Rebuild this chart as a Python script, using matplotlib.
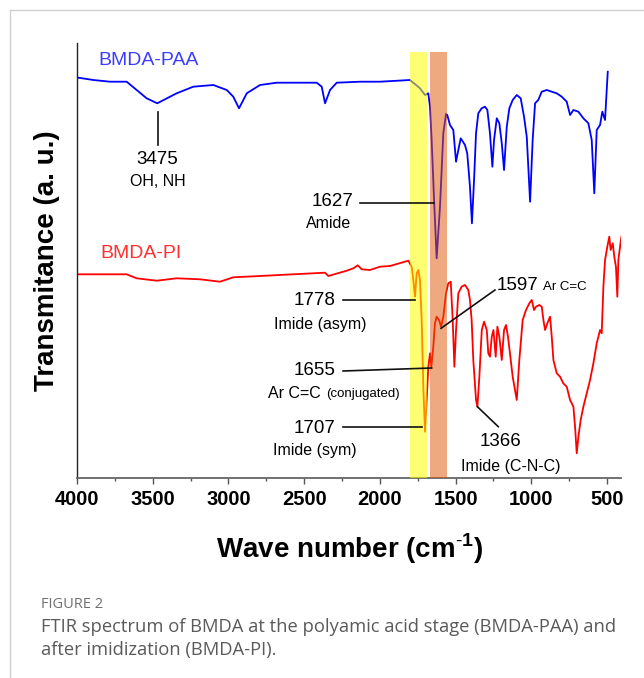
import matplotlib
matplotlib.use("Agg")
import matplotlib.pyplot as plt
from matplotlib.lines import Line2D
from matplotlib.ticker import MultipleLocator

plt.rcParams['font.family'] = ['Liberation Sans', 'DejaVu Sans']
plt.rcParams['mathtext.fontset'] = 'custom'
plt.rcParams['mathtext.rm'] = 'Liberation Sans'
plt.rcParams['mathtext.bf'] = 'Liberation Sans:bold'

# ---------------- data (arbitrary transmittance units) ----
paa_wn = [4000, 3892, 3782, 3672, 3606, 3540, 3470, 3342, 3232, 3100, 3011, 2968,
          2930, 2879, 2791, 2681, 2417, 2384, 2362, 2329, 2285, 2131, 1999,
          1801, 1735, 1702, 1680, 1669, 1658, 1642, 1625, 1603, 1581, 1563, 1555,
          1537, 1515, 1497, 1482, 1466, 1438, 1423, 1405, 1392, 1378, 1365, 1350,
          1328, 1306, 1290, 1273, 1257, 1246, 1228, 1211, 1195, 1180, 1162, 1145,
          1123, 1096, 1070, 1048, 1030, 1008, 991, 975, 954, 931, 898, 865, 832,
          799, 766, 744, 722, 689, 656, 623, 601, 584, 568, 546, 531, 513, 502, 495]
paa_t = [400.5, 398, 396.3, 396.3, 388, 379.7, 374.7, 384.7, 391.3, 393, 388, 381.3,
         369.7, 384.7, 393, 395.3, 395.3, 391.3, 374.7, 388, 395.3, 396.3, 396.3,
         398, 389.7, 383, 384.7, 371.3, 338, 278, 219.7, 271.3, 344.7, 364, 363,
         353, 348, 316.3, 328, 339.7, 333, 324.7, 291.3, 254.7, 298, 344.7, 364.7,
         369.7, 371.3, 368, 344.7, 311.3, 338, 359.7, 354.7, 334.7, 308, 351.3, 369.7,
         378, 383, 379.7, 361.3, 341.3, 276.3, 338, 374.7, 378, 386.3, 388, 386.3, 384.7,
         381.3, 376.3, 363, 368, 366.3, 359.7, 354.7, 338, 284.7, 348, 353, 366.3, 358, 388, 406.3]

pi_wn = [4000, 3672, 3606, 3474, 3342, 3188, 3056, 2968, 2791, 2572, 2362, 2340,
         2219, 2175, 2146, 2120, 2065, 1999, 1933, 1812, 1790, 1779, 1768, 1757,
         1746, 1735, 1724, 1713, 1702, 1691, 1680, 1669, 1660, 1647, 1636, 1625,
         1609, 1596, 1581, 1563, 1548, 1532, 1519, 1508, 1497, 1482, 1460, 1438,
         1416, 1405, 1394, 1383, 1365, 1356, 1343, 1327, 1312, 1294, 1284, 1273,
         1261, 1250, 1235, 1224, 1211, 1195, 1180, 1167, 1154, 1141, 1123, 1096,
         1079, 1057, 1035, 1013, 997, 982, 969, 947, 931, 920, 909, 894, 876, 865,
         854, 832, 810, 789, 766, 744, 722, 711, 700, 689, 674, 656, 634, 612, 590,
         568, 546, 535, 524, 513, 498, 485, 476, 462, 452, 441, 432, 425, 414, 405]
pi_t = [203.7, 203.7, 199.7, 197.3, 199.7, 198.7, 196.3, 200.7, 202, 203.7, 205.3, 202,
        207.3, 209.7, 212.7, 208.7, 208, 211.3, 212, 217.3, 211.3, 198, 181.3, 204.7,
        208, 198, 158, 91.3, 46.3, 78, 111.3, 124.7, 111.3, 131.3, 154.7, 161.3,
        158, 151.3, 161.3, 184.7, 194.7, 196.3, 158, 111.3, 148, 184.7, 191.3, 193,
        188, 178, 158, 118, 78, 71.3, 101.3, 148, 156.3, 148, 124.7, 121.3,
        141.3, 148, 121.3, 151.3, 141.3, 118, 148, 153, 141.3, 124.7, 101.3, 78,
        118, 158, 168, 174.7, 178, 168, 171.3, 173, 171.3, 158, 148, 154.7, 161.3, 141.3,
        118, 104.7, 101.3, 94.7, 91.3, 78, 71.3, 51.3, 24.7, 41.3, 58, 71.3, 84.7, 98, 114.7,
        134.7, 148, 144.7, 191.3, 218, 231.3, 241.3, 228, 234.7, 221.3, 211.3, 181.3, 218, 231.3, 241.3]

series_names = ["BMDA-PAA", "BMDA-PI"]
xticks = [4000, 3500, 3000, 2500, 2000, 1500, 1000, 500]
bands = [(1800, 1690), (1670, 1555)]

# ---------------- figure ----------------
W, H = 644, 678
fig = plt.figure(figsize=(W / 100, H / 100), dpi=100)
ax = fig.add_axes([77 / W, 1 - 478 / H, (621.4 - 77) / W, (478 - 43) / H])

ax.plot(paa_wn, paa_t, color='#0000ff', lw=1.3, zorder=2)
ax.plot(pi_wn, pi_t, color='#ff0000', lw=1.3, zorder=2)

ymax_band = (478 - 52) / (478 - 43)
ax.axvspan(bands[0][0], bands[0][1], ymin=0, ymax=ymax_band, color=(1.0, 1.0, 0.0),
           alpha=0.55, lw=0, zorder=3)
ax.axvspan(bands[1][0], bands[1][1], ymin=0, ymax=ymax_band, color=(0.88, 0.33, 0.02),
           alpha=0.5, lw=0, zorder=3)

ax.set_xlim(4000, 405)
ax.set_ylim(0, 435)
ax.set_xticks(xticks)
ax.xaxis.set_minor_locator(MultipleLocator(250))
ax.set_yticks([])
for s in ['top', 'right']:
    ax.spines[s].set_visible(False)
ax.spines['left'].set_color('#222222')
ax.spines['bottom'].set_color('#666666')
ax.spines['left'].set_linewidth(1.0)
ax.spines['bottom'].set_linewidth(1.3)
ax.tick_params(axis='x', which='major', length=4.5, width=1.0, color='#555555',
               labelsize=14.5, pad=4)
ax.tick_params(axis='x', which='minor', length=2.5, width=1.0, color='#555555')
for lab in ax.get_xticklabels():
    lab.set_fontweight('bold')

ax.set_xlabel(r'Wave number (cm$^{\mathbf{\text{-}1}}$)', fontsize=20, fontweight='bold')
ax.xaxis.set_label_coords(0.5, (478 - 549) / 435)
ax.xaxis.label.set_va('center')
ax.set_ylabel('Transmitance (a. u.)', fontsize=20, fontweight='bold')
ax.yaxis.set_label_coords((46.7 - 77) / 544.4, 0.5)
ax.yaxis.label.set_va('center')

# series labels
ax.text(3859, 417.3, series_names[0], color='#3d3dff', fontsize=14, va='center', ha='left')
ax.text(3848, 224, series_names[1], color='#ff3030', fontsize=14, va='center', ha='left')

# annotations
k = dict(color='#111111', lw=1.2, zorder=4)
num = 13.5
sub = 11.5
# 3475
ax.plot([3467, 3467], [366.3, 333], **k)
ax.text(3467, 318, '3475', fontsize=num, ha='center', va='center')
ax.text(3467, 296, 'OH, NH', fontsize=sub, ha='center', va='center')
# 1627
ax.plot([2131, 1640], [275.3, 275.3], **k)
ax.text(2175, 277, '1627', fontsize=num, ha='right', va='center')
ax.text(2336, 254.7, 'Amide', fontsize=sub, ha='center', va='center')
# 1778
ax.plot([2241, 1768], [178, 178], **k)
ax.text(2296, 177.3, '1778', fontsize=num, ha='right', va='center')
ax.text(2391, 154, 'Imide (asym)', fontsize=sub, ha='center', va='center')
# 1655
ax.plot([2243, 1658], [107, 110], **k)
ax.text(2296, 107.3, '1655', fontsize=num, ha='right', va='center')
ax.text(2389, 84.7, 'Ar C=C', fontsize=sub, ha='right', va='center')
ax.text(2356, 83.5, '(conjugated)', fontsize=9.5, ha='left', va='center')
# 1707
ax.plot([2243, 1724], [50.7, 50.7], **k)
ax.text(2296, 49.7, '1707', fontsize=num, ha='right', va='center')
ax.text(2428, 27.3, 'Imide (sym)', fontsize=sub, ha='center', va='center')
# 1597
ax.plot([1240, 1596], [188, 149.7], **k)
ax.text(1228, 193, '1597', fontsize=num, ha='left', va='center')
ax.text(923, 191, 'Ar C=C', fontsize=9.5, ha='left', va='center')
# 1366
ax.plot([1356, 1218], [71.3, 51.3], **k)
ax.text(1201, 36.3, '1366', fontsize=num, ha='center', va='center')
ax.text(1135, 11.3, 'Imide (C-N-C)', fontsize=sub, ha='center', va='center')

# page frame and caption
fig.add_artist(Line2D([10 / W, 1.0], [1 - 10 / H, 1 - 10 / H], color='#d0d0d0', lw=1.0))
fig.add_artist(Line2D([10 / W, 10 / W], [0, 1 - 10 / H], color='#d0d0d0', lw=1.0))
fig.text(41 / W, 1 - 605 / H, 'FIGURE 2', fontsize=10.5, color='#707070',
         family=['Open Sans', 'DejaVu Sans'], va='center', ha='left')
fig.text(41 / W, 1 - 627 / H,
         'FTIR spectrum of BMDA at the polyamic acid stage (BMDA-PAA) and',
         fontsize=13.2, color='#5a5a5a', family=['Open Sans', 'DejaVu Sans'],
         va='center', ha='left')
fig.text(41 / W, 1 - 650 / H, 'after imidization (BMDA-PI).',
         fontsize=13.2, color='#5a5a5a', family=['Open Sans', 'DejaVu Sans'],
         va='center', ha='left')

fig.savefig('out.png', dpi=100)
